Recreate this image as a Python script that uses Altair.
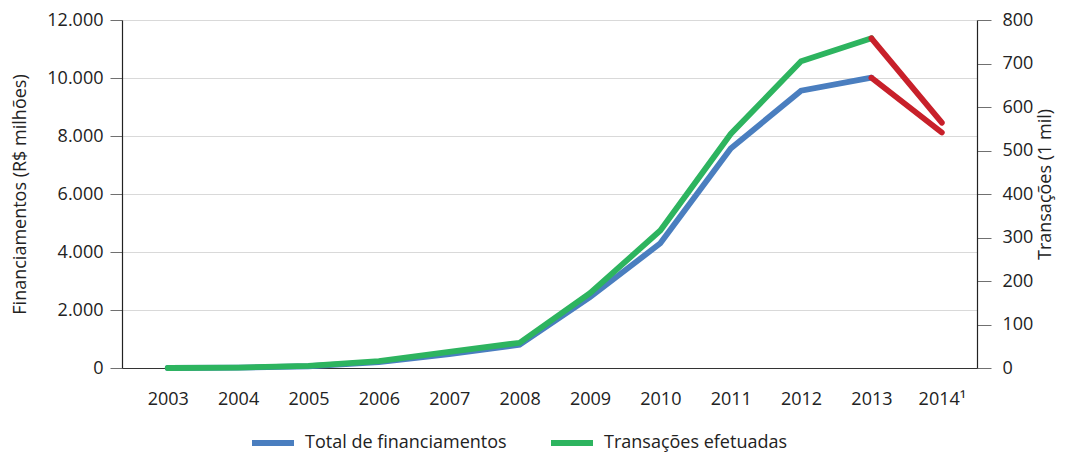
import altair as alt
import pandas as pd

# ---- data ----
years = [2003, 2004, 2005, 2006, 2007, 2008, 2009, 2010, 2011, 2012, 2013, 2014]
financiamentos = [0, 10, 60, 200, 480, 800, 2440, 4300, 7570, 9560, 10010, 8120]  # R$ milhões
transacoes = [0, 1, 5, 16, 37, 58, 172, 316, 538, 705, 758, 564]  # 1 mil
series_names = ["Total de financiamentos", "Transações efetuadas"]
left_ticks = [0, 2000, 4000, 6000, 8000, 10000, 12000]
right_ticks = [0, 100, 200, 300, 400, 500, 600, 700, 800]
last_year_label = "2014¹"

BLUE = "#4a7ebf"
GREEN = "#2db45f"
RED = "#c8202a"
FONT = "Open Sans"
TXT = "#222222"

df_fin = pd.DataFrame({"ano": years, "valor": financiamentos, "serie": series_names[0]})
df_tr = pd.DataFrame({"ano": years, "valor": transacoes, "serie": series_names[1]})

x_enc = alt.X(
    "ano:Q",
    scale=alt.Scale(domain=[2002.35, 2014.5], nice=False, zero=False),
    axis=alt.Axis(
        values=years,
        format="d",
        labelExpr=f"datum.value == {years[-1]} ? '{last_year_label}' : datum.label",
        title=None,
        ticks=False,
        grid=False,
        labelPadding=22,
        domainColor="#333333",
    ),
)

color_scale = alt.Scale(domain=series_names, range=[BLUE, GREEN])

line_kw = dict(strokeWidth=5.8, strokeCap="round")

# left group: financiamentos
y_left = alt.Y(
    "valor:Q",
    scale=alt.Scale(domain=[0, 12000], nice=False),
    axis=alt.Axis(
        values=left_ticks,
        labelExpr="replace(format(datum.value, ','), ',', '.')",
        title="Financiamentos (R$ milhões)",
        grid=True,
        gridColor="#d9d9d9",
        tickSize=12,
        labelPadding=7,
        titlePadding=17,
        domainColor="#222222",
    ),
)

fin_line = alt.Chart(df_fin).transform_filter(alt.datum.ano <= 2013).mark_line(**line_kw).encode(
    x=x_enc,
    y=y_left,
    color=alt.Color("serie:N", scale=color_scale, title=None),
)
fin_proj = alt.Chart(df_fin).transform_filter(alt.datum.ano >= 2013).mark_line(color=RED, **line_kw).encode(
    x=x_enc, y=y_left
)

# right group: transações
y_right = alt.Y(
    "valor:Q",
    scale=alt.Scale(domain=[0, 800], nice=False),
    axis=alt.Axis(
        orient="right",
        values=right_ticks,
        format="d",
        title="Transações (1 mil)",
        titleAngle=270,
        titleBaseline="top",
        titleY=164,
        grid=False,
        tickSize=14,
        labelPadding=11,
        titlePadding=4,
        domainColor="#222222",
    ),
)

tr_line = alt.Chart(df_tr).transform_filter(alt.datum.ano <= 2013).mark_line(**line_kw).encode(
    x=x_enc,
    y=y_right,
    color=alt.Color("serie:N", scale=color_scale, title=None),
)
tr_proj = alt.Chart(df_tr).transform_filter(alt.datum.ano >= 2013).mark_line(color=RED, **line_kw).encode(
    x=x_enc, y=y_right
)

left = alt.layer(fin_line, fin_proj)
right = alt.layer(tr_line, tr_proj)

chart = (
    alt.layer(left, right)
    .resolve_scale(y="independent")
    .properties(
        width=855,
        height=348,
        padding={"left": 114, "top": 12, "right": 80, "bottom": 84},
        autosize=alt.AutoSizeParams(type="none"),
    )
    .configure_view(stroke=None)
    .configure_axis(
        labelFont=FONT,
        labelFontSize=18,
        labelColor=TXT,
        titleFont=FONT,
        titleFontSize=18,
        titleFontWeight="normal",
        titleColor=TXT,
        tickColor="#707070",
        domainWidth=1.2,
    )
    .configure_legend(
        orient="none",
        legendX=127,
        legendY=399,
        direction="horizontal",
        symbolType="stroke",
        symbolSize=1764,
        symbolStrokeWidth=6,
        labelFont=FONT,
        labelFontSize=18,
        labelLimit=0,
        labelColor=TXT,
        labelOffset=8,
        columnPadding=32,
    )
)

chart.save("out.html", embed_options={"renderer": "svg", "actions": False})
